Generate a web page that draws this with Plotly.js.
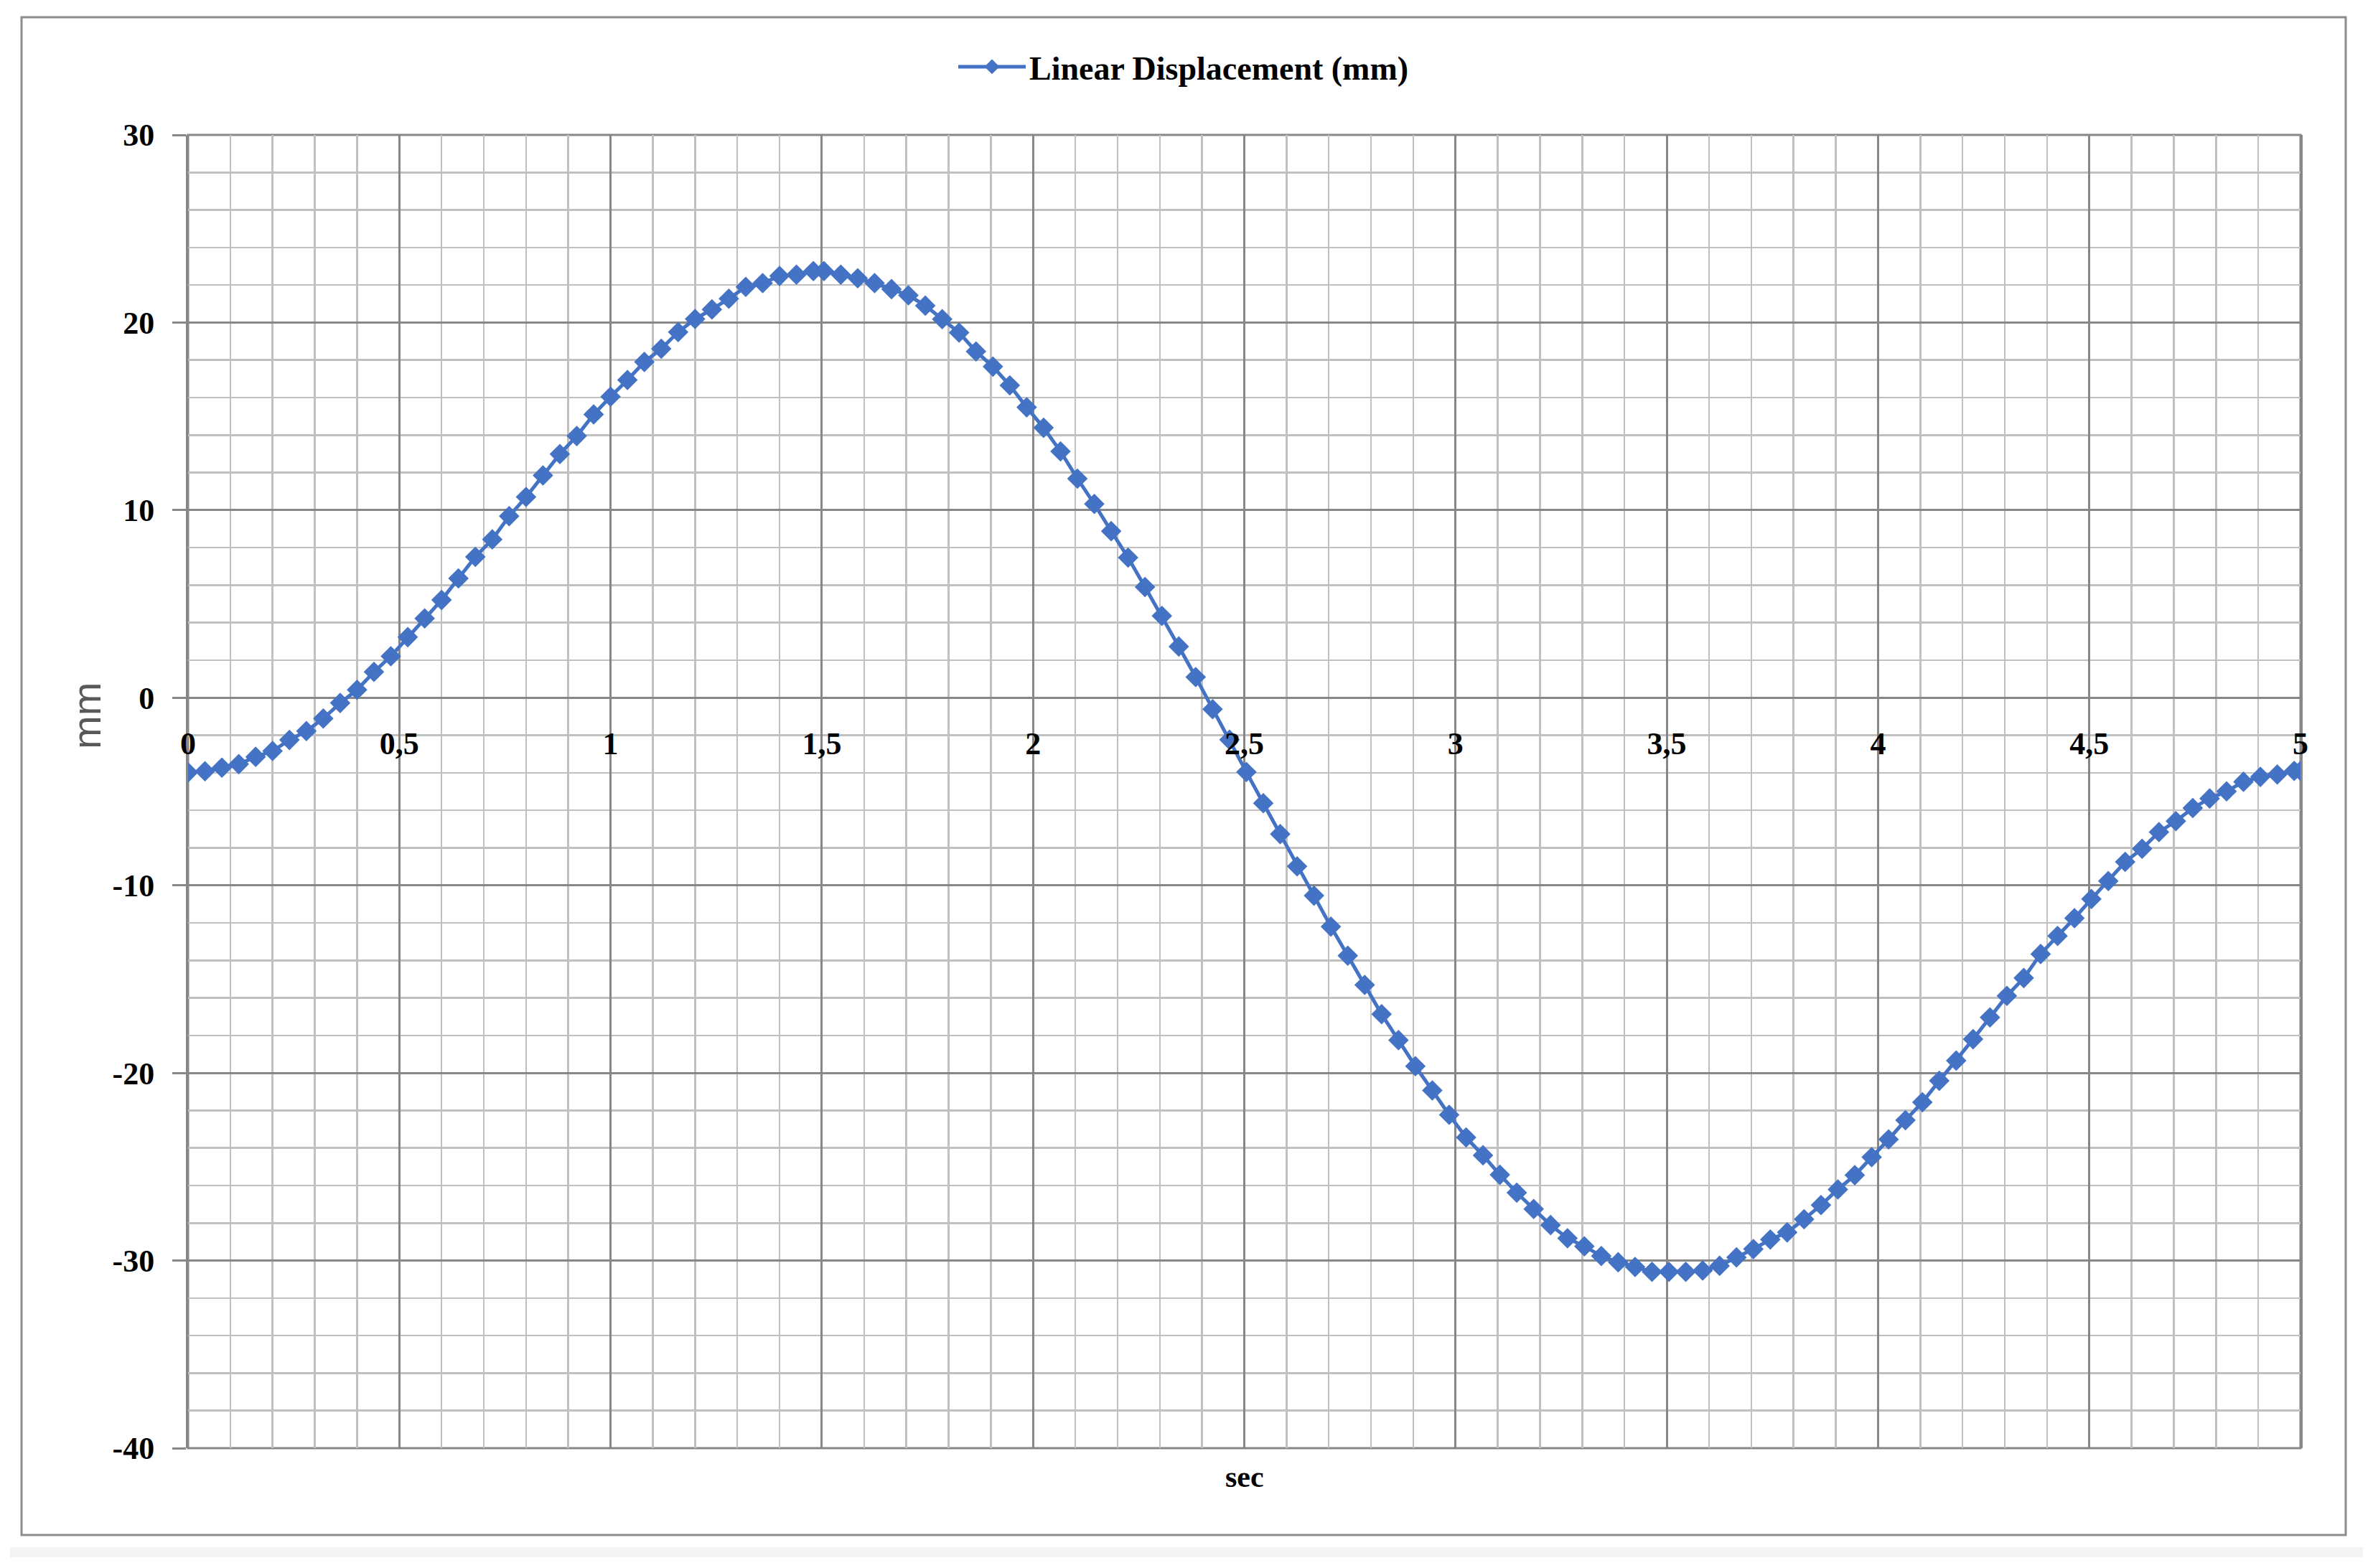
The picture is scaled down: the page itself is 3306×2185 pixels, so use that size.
<!DOCTYPE html>
<html>
<head>
<meta charset="utf-8">
<script src="https://cdn.plot.ly/plotly-3.0.1.min.js"></script>
<style>
  html, body { margin: 0; padding: 0; background: #ffffff; }
  #chart { width: 3306px; height: 2185px; }
</style>
</head>
<body>
<div id="chart"></div>
<script>
// ---- data ----
const seriesName = 'Linear Displacement (mm)';

const timeSec = [
  0, 0.04, 0.08, 0.12, 0.16, 0.2, 0.24, 0.28, 0.32, 0.36, 0.4, 0.44, 0.48, 0.52, 0.56, 0.6, 0.64, 0.68, 0.72, 0.76, 0.8,
  0.84, 0.88, 0.92, 0.96, 1.0, 1.04, 1.08, 1.12, 1.16, 1.2, 1.24, 1.28, 1.32, 1.36, 1.4, 1.44, 1.48,
  1.505, 1.545, 1.585, 1.625, 1.665,
  1.705, 1.745, 1.785, 1.825, 1.865, 1.905, 1.945, 1.985, 2.025, 2.065, 2.105, 2.145, 2.185, 2.225, 2.265, 2.305, 2.345, 2.385, 2.425, 2.465, 2.505,
  2.545, 2.585, 2.625, 2.665, 2.705, 2.745, 2.785, 2.825, 2.865, 2.905, 2.945, 2.985, 3.025, 3.065, 3.105, 3.145, 3.185, 3.225, 3.265, 3.305, 3.345,
  3.385, 3.425, 3.465, 3.505, 3.545, 3.585, 3.625, 3.665, 3.705, 3.745, 3.785, 3.825, 3.865, 3.905, 3.945, 3.985, 4.025, 4.065, 4.105, 4.145, 4.185,
  4.225, 4.265, 4.305, 4.345, 4.385, 4.425, 4.465, 4.505, 4.545, 4.585, 4.625, 4.665, 4.705, 4.745, 4.785, 4.825, 4.865, 4.905, 4.945, 4.985,
  5.0
];

const displacementMm = [
  -3.98, -3.92, -3.73, -3.54, -3.15, -2.84, -2.25, -1.78, -1.11, -0.28, 0.42, 1.38, 2.21, 3.23, 4.23, 5.21, 6.36, 7.51, 8.44, 9.68, 10.7,
  11.85, 12.99, 13.95, 15.10, 16.05, 16.94, 17.90, 18.60, 19.49, 20.19, 20.70, 21.27, 21.90, 22.10, 22.48, 22.55, 22.74,
  22.74, 22.55, 22.36, 22.10, 21.78,
  21.45, 20.90, 20.18, 19.46, 18.46, 17.65, 16.65, 15.48, 14.39, 13.13, 11.68, 10.33, 8.88, 7.47, 5.90, 4.36, 2.73, 1.10, -0.61, -2.24, -3.96,
  -5.62, -7.27, -8.99, -10.55, -12.20, -13.75, -15.31, -16.87, -18.25, -19.64, -20.93, -22.23, -23.44, -24.39, -25.43, -26.38, -27.25, -28.11, -28.81, -29.24, -29.76,
  -30.09, -30.34, -30.60, -30.60, -30.60, -30.53, -30.28, -29.83, -29.39, -28.88, -28.50, -27.80, -27.04, -26.21, -25.45, -24.49, -23.54, -22.52, -21.56, -20.42, -19.34,
  -18.20, -17.04, -15.89, -14.94, -13.66, -12.70, -11.75, -10.73, -9.77, -8.75, -8.05, -7.16, -6.58, -5.88, -5.37, -4.99, -4.48, -4.22, -4.09, -3.90,
  -3.90
];

const xTickVals = [0, 0.5, 1, 1.5, 2, 2.5, 3, 3.5, 4, 4.5, 5];
const xTickText = ['0', '0,5', '1', '1,5', '2', '2,5', '3', '3,5', '4', '4,5', '5'];
const yTickVals = [30, 20, 10, 0, -10, -20, -30, -40];
const yTickText = ['30', '20', '10', '0', '-10', '-20', '-30', '-40'];
const xTitle = 'sec';
const yTitle = 'mm';

// ---- layout helpers (pixel geometry of the figure) ----
const W = 3306, H = 2185;
const M = { l: 262, r: W - 3205, t: 188, b: H - 2018 };
const plotW = W - M.l - M.r, plotH = H - M.t - M.b;
const px2x = p => (p - M.l) / plotW;
const px2y = p => (H - M.b - p) / plotH;

const blue = '#4472C4';
const majorGrid = '#878787';
const minorGrid = '#c0c0c0';
const serif = '"Liberation Serif", "Times New Roman", serif';

const trace = {
  type: 'scatter',
  mode: 'lines+markers',
  name: seriesName,
  x: timeSec,
  y: displacementMm,
  line: { color: blue, width: 5 },
  marker: { symbol: 'diamond', size: 22, color: blue },
  showlegend: true
};

const layout = {
  width: W, height: H,
  margin: M,
  paper_bgcolor: '#ffffff',
  plot_bgcolor: 'rgba(0,0,0,0)',
  showlegend: true,
  legend: {
    orientation: 'h',
    x: px2x(1330), xanchor: 'left',
    y: px2y(93), yanchor: 'middle',
    font: { family: serif, size: 46, color: '#000000', weight: 'bold' },
    itemwidth: 94,
    bgcolor: 'rgba(0,0,0,0)'
  },
  xaxis: {
    range: [0, 5],
    tickmode: 'array', tickvals: xTickVals, ticktext: xTickText,
    anchor: 'free', position: 40 / 70,
    ticks: '', showline: false, zeroline: false,
    showgrid: true, gridcolor: majorGrid, gridwidth: 3,
    minor: { tickmode: 'linear', tick0: 0, dtick: 0.1, showgrid: true, gridcolor: minorGrid, gridwidth: 2.5 },
    ticklabelstandoff: 34,
    tickfont: { family: serif, size: 44, color: '#000000', weight: 'bold' },
    fixedrange: true
  },
  yaxis: {
    range: [-40, 30],
    tickmode: 'array', tickvals: yTickVals, ticktext: yTickText,
    ticks: 'outside', ticklen: 19, tickwidth: 3, tickcolor: majorGrid,
    showline: true, mirror: true, linecolor: majorGrid, linewidth: 3,
    zeroline: false,
    showgrid: true, gridcolor: majorGrid, gridwidth: 3,
    minor: { tickmode: 'linear', tick0: 0, dtick: 2, showgrid: true, gridcolor: minorGrid, gridwidth: 2.5 },
    ticklabelstandoff: 16,
    tickfont: { family: serif, size: 44, color: '#000000', weight: 'bold' },
    fixedrange: true
  },
  annotations: [
    { text: xTitle, xref: 'paper', yref: 'paper', x: 0.5, y: px2y(2058),
      xanchor: 'center', yanchor: 'middle', showarrow: false,
      font: { family: serif, size: 42, color: '#000000', weight: 'bold' } },
    { text: yTitle, xref: 'paper', yref: 'paper', x: px2x(120), y: px2y(998),
      xanchor: 'center', yanchor: 'middle', showarrow: false, textangle: -90,
      font: { family: '"Liberation Sans", Arial, sans-serif', size: 56, color: '#595959' } }
  ],
  shapes: [
    // plot-area border (top and bottom edges coincide with the axis bounds)
    { type: 'rect', xref: 'paper', yref: 'paper', x0: 0, x1: 1, y0: 0, y1: 1,
      line: { color: majorGrid, width: 3 }, layer: 'below' },
    // chart frame
    { type: 'rect', xref: 'paper', yref: 'paper',
      x0: px2x(30), x1: px2x(3268), y0: px2y(2139), y1: px2y(24),
      line: { color: '#8c8c8c', width: 3 }, layer: 'below' },
    // faint strip under the frame
    { type: 'rect', xref: 'paper', yref: 'paper',
      x0: px2x(14), x1: px2x(3292), y0: px2y(2170), y1: px2y(2156),
      line: { width: 0 }, fillcolor: '#f4f4f4', layer: 'below' }
  ]
};

Plotly.newPlot('chart', [trace], layout, { staticPlot: true, displayModeBar: false });
</script>
</body>
</html>
